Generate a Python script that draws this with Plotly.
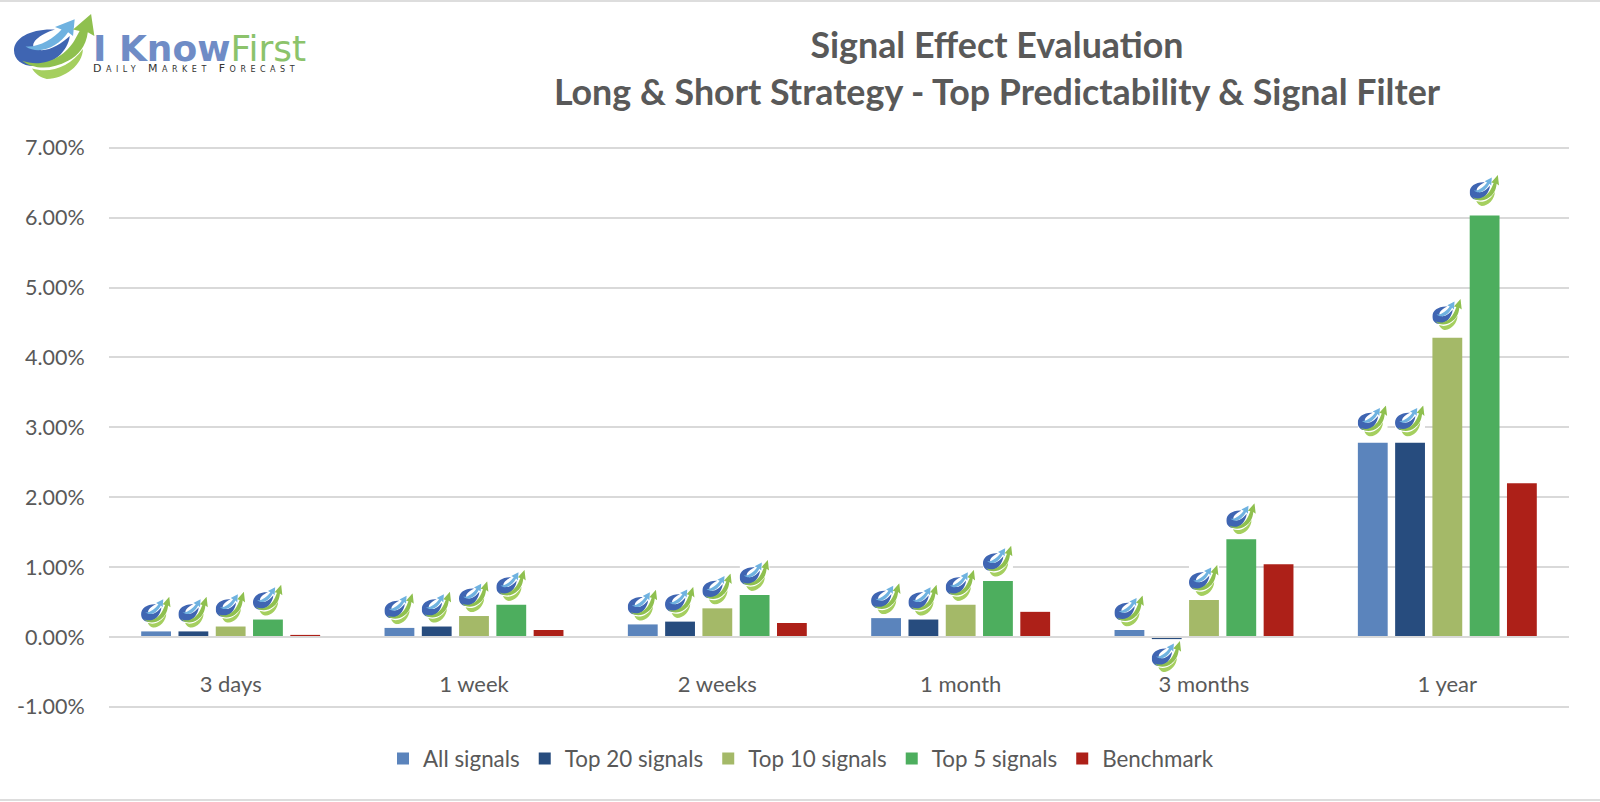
import base64
import plotly.graph_objects as go

categories = ["3 days", "1 week", "2 weeks", "1 month", "3 months", "1 year"]
all_signals = [0.08, 0.13, 0.18, 0.27, 0.10, 2.78]
top_20 = [0.08, 0.15, 0.22, 0.25, -0.03, 2.78]
top_10 = [0.15, 0.30, 0.41, 0.46, 0.53, 4.28]
top_5 = [0.25, 0.46, 0.60, 0.80, 1.40, 6.03]
benchmark = [0.03, 0.10, 0.20, 0.36, 1.04, 2.20]

series_names = ["All signals", "Top 20 signals", "Top 10 signals", "Top 5 signals", "Benchmark"]
series_values = [all_signals, top_20, top_10, top_5, benchmark]
series_colors = ["#5B84BC", "#274C7E", "#A4B968", "#4DAE5E", "#AD2018"]
y_ticks = [-1, 0, 1, 2, 3, 4, 5, 6, 7]
y_labels = [f"{t:.2f}%" for t in y_ticks]

W, H = 1600, 802
L, R, T, B = 109, 31, 146, 93
PW, PH = W - L - R, H - T - B
TEXT = "#595959"
FONT = "Lato"
UNIT = 69.9        # pixels per percentage point
ZERO = 637         # pixel row of 0%
PX_X = 6 / PW      # one pixel in x-axis units (six categories)
PX_Y = 1 / UNIT    # one pixel in y-axis units


def px(x):
    return (x - L) / PW


def py(y):
    return 1 - (y - T) / PH


SWOOSH = (
    '<path d="M0 56C0 36 22 22 50 24C30 32 18 46 26 54C40 60 56 48 68 34C66 58 46 80 24 80C10 80 0 70 0 56Z" fill="#3F65B2"/>'
    '<path d="M14 50C30 52 48 38 58 24L50 20L74 8L72 34L66 28C54 50 32 64 14 50Z" fill="#6FB2E0"/>'
    '<path d="M10 72C36 84 62 66 74 40L80 26L72 24L94 0L98 34L90 28C88 50 78 64 66 72C46 86 24 86 10 72Z" fill="#8FC04F"/>'
    '<path d="M22 84C44 92 68 82 84 54C84 78 62 100 40 100C32 98 26 92 22 84Z" fill="#A5CF5F"/>'
)


def svg_uri(bg):
    back = '<rect width="100" height="100" fill="white"/>' if bg else ""
    svg = ('<svg xmlns="http://www.w3.org/2000/svg" viewBox="0 0 100 100" preserveAspectRatio="none">'
           + back + SWOOSH + "</svg>")
    return "data:image/svg+xml;base64," + base64.b64encode(svg.encode()).decode()


icon = svg_uri(True)
logo = svg_uri(False)

fig = go.Figure()
for name, vals, col in zip(series_names, series_values, series_colors):
    fig.add_bar(name=name, x=list(range(len(categories))), y=vals, marker_color=col,
                marker_line_width=0, hoverinfo="x+y+name")

images = []
PITCH = 37.3 * PX_X
for j, vals in enumerate(series_values[:4]):
    for i, v in enumerate(vals):
        cx = i + (j - 2) * PITCH
        if v >= 0:
            yy, anchor = v + (3.5 + v) * PX_Y, "bottom"
        else:
            yy, anchor = v - 2 * PX_Y, "top"
        images.append(dict(source=icon, xref="x", yref="y", x=cx, y=yy, sizex=30 * PX_X, sizey=31 * PX_Y,
                           xanchor="center", yanchor=anchor, sizing="stretch", layer="above"))
images.append(dict(source=logo, xref="paper", yref="paper", x=px(14), y=py(14), sizex=82 / PW, sizey=65 / PH,
                   xanchor="left", yanchor="top", sizing="stretch", layer="above"))

fig.update_layout(
    width=W, height=H, autosize=False,
    margin=dict(l=L, r=R, t=T, b=B, pad=0),
    paper_bgcolor="white", plot_bgcolor="white",
    font=dict(family=FONT, color=TEXT, size=22),
    barmode="group", bargap=0.234, bargroupgap=0.2,
    title=dict(text="Signal Effect Evaluation<br>Long &amp; Short Strategy - Top Predictability &amp; Signal Filter",
               x=997 / W, xanchor="center", xref="container", y=1 - 58 / H, yanchor="top", yref="container",
               font=dict(family=FONT, size=35.8, color=TEXT, weight="bold")),
    xaxis=dict(range=[-0.5, 5.5], tickvals=list(range(6)), ticktext=categories, anchor="free",
               position=py(ZERO), showgrid=False, zeroline=False, showline=True, linecolor="#D9D9D9", linewidth=1.5,
               ticks="outside", ticklen=28, tickcolor="rgba(0,0,0,0)", tickfont=dict(size=22, color=TEXT)),
    yaxis=dict(range=[-(H - B - ZERO) / UNIT, (ZERO - T) / UNIT], tickvals=y_ticks, ticktext=y_labels, showgrid=True,
               gridcolor="#D9D9D9", gridwidth=1.5, zeroline=False, ticks="outside", ticklen=19,
               tickcolor="rgba(0,0,0,0)", tickfont=dict(size=21.5, color=TEXT)),
    legend=dict(orientation="h", x=px(801), xanchor="center", y=py(759), yanchor="middle",
                font=dict(size=22.4, color=TEXT), traceorder="normal", bgcolor="rgba(0,0,0,0)"),
    images=images,
    shapes=[
        dict(type="line", xref="paper", yref="paper", x0=px(0), x1=px(W), y0=py(1), y1=py(1),
             line=dict(color="#DDDDDD", width=2)),
        dict(type="line", xref="paper", yref="paper", x0=px(0), x1=px(W), y0=py(800), y1=py(800),
             line=dict(color="#DDDDDD", width=2)),
    ],
    annotations=[
        dict(text='<b><span style="color:#6F8CC6">I Know</span></b><span style="color:#8CC36B">First</span>',
             xref="paper", yref="paper", x=px(91), y=py(49), xanchor="left", yanchor="middle", showarrow=False,
             font=dict(family="DejaVu Sans", size=36)),
        dict(text='<span style="letter-spacing:4.5px">Daily Market Forecast</span>', xref="paper", yref="paper",
             x=px(91), y=py(68), xanchor="left", yanchor="middle", showarrow=False,
             font=dict(family="DejaVu Sans", size=11, color="#333333", variant="small-caps")),
    ],
)

fig.write_html("out.html", config={"displayModeBar": False},
               post_script="document.body.style.margin='0';document.body.style.overflow='hidden';")
